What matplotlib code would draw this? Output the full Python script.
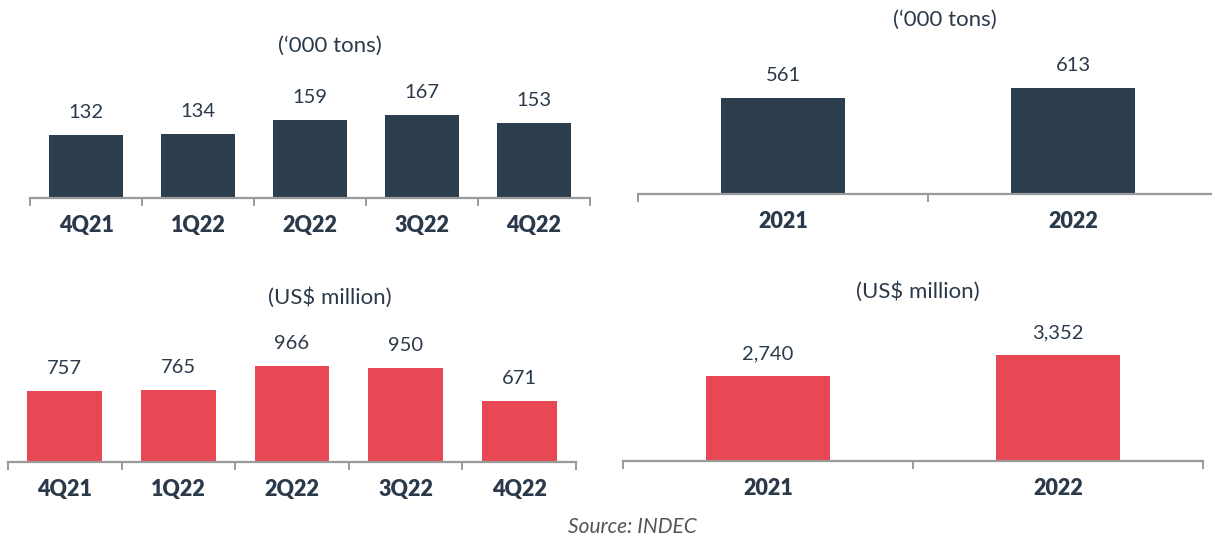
import matplotlib.pyplot as plt
from matplotlib.transforms import blended_transform_factory

plt.rcParams["font.family"] = ["Lato", "DejaVu Sans"]

quarters = ["4Q21", "1Q22", "2Q22", "3Q22", "4Q22"]
years = ["2021", "2022"]
tons_quarterly = [132, 134, 159, 167, 153]
usd_quarterly = [757, 765, 966, 950, 671]
tons_yearly = [561, 613]
usd_yearly = [2740, 3352]

DARK = "#2c3d4e"
RED = "#e84853"
TEXT = "#2b3a4a"
AXIS = "#9a9a9a"

W, H = 1212, 537


def add_panel(fig, left, right, axis_y, top_y, values, labels, color, width, ylim, title, title_xy):
    # positions given in image pixels (y measured from the top)
    ax = fig.add_axes([left / W, (H - axis_y) / H, (right - left) / W, (axis_y - top_y) / H])
    n = len(values)
    xs = range(n)
    ax.bar(xs, values, width=width, color=color, zorder=2)
    ax.set_xlim(-0.5, n - 0.5)
    ax.set_ylim(*ylim)
    for side in ["top", "right", "left"]:
        ax.spines[side].set_visible(False)
    ax.spines["bottom"].set_color(AXIS)
    ax.spines["bottom"].set_linewidth(1.6)
    ax.set_yticks([])
    ax.set_xticks([i - 0.5 for i in range(n + 1)])
    ax.set_xticklabels([])
    ax.tick_params(axis="x", length=6, width=1.4, color=AXIS)
    ax.patch.set_alpha(0)

    for x, v in zip(xs, values):
        ax.annotate(f"{v:,}", xy=(x, v), xytext=(0, 16), textcoords="offset points",
                    ha="center", va="center", fontsize=14.5, color=TEXT)

    trans = blended_transform_factory(ax.transData, ax.transAxes)
    for x, lab in zip(xs, labels):
        ax.annotate(lab, xy=(x, 0), xycoords=trans, xytext=(0, -19.5), textcoords="offset points",
                    ha="center", va="center", fontsize=15.5, fontweight="heavy", color=TEXT)

    fig.text(title_xy[0] / W, 1 - title_xy[1] / H, title, ha="center", va="center",
             fontsize=16, color=TEXT)
    return ax


fig = plt.figure(figsize=(W / 100, H / 100), dpi=100)

add_panel(fig, 30, 590, 198, 40, tons_quarterly, quarters, DARK, 0.66,
          (22, 22 + 158 / 0.571), "(\u2018000 tons)", (330, 46))
add_panel(fig, 638, 1218, 194, 30, tons_yearly, years, DARK, 0.43,
          (61, 61 + 164 / 0.192), "(\u2018000 tons)", (945, 20))
add_panel(fig, 8, 576, 462, 320, usd_quarterly, quarters, RED, 0.66,
          (157, 157 + 142 / 0.1186), "(US$ million)", (330, 298))
add_panel(fig, 623, 1203, 461, 315, usd_yearly, years, RED, 0.43,
          (263, 263 + 146 / 0.0343), "(US$ million)", (918, 292))

fig.text(632 / W, 1 - 527 / H, "Source: INDEC", ha="center", va="center",
         fontsize=15, style="italic", color="#555555")

fig.savefig("out.png", dpi=100)
